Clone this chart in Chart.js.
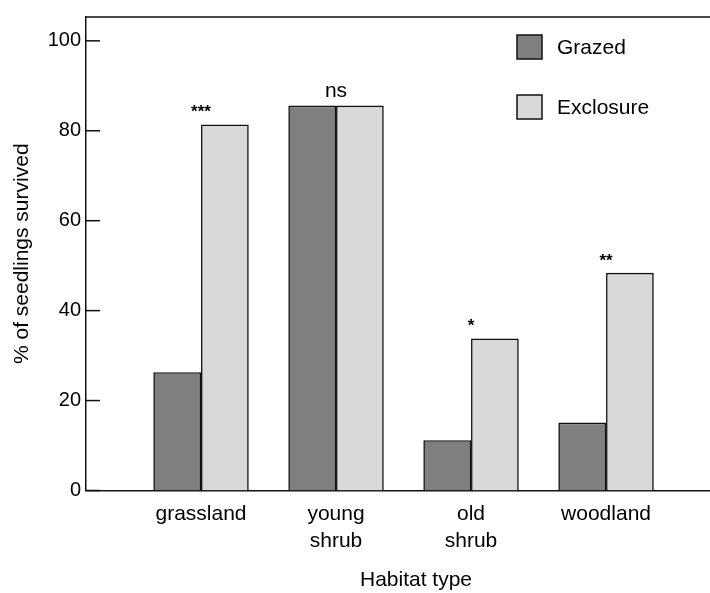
<!DOCTYPE html>
<html>
<head>
<meta charset="utf-8">
<script src="https://cdn.jsdelivr.net/npm/chart.js@4.4.1/dist/chart.umd.min.js"></script>
<style>
  body { margin: 0; background: #fff; }
  #wrap { width: 710px; height: 593px; }
</style>
</head>
<body>
<div id="wrap"><canvas id="chart" width="710" height="593"></canvas></div>
<script>
// habitat categories and survival (%)
const categories = ['grassland', ['young', 'shrub'], ['old', 'shrub'], 'woodland'];
const grazed = [26.3, 85.6, 11.2, 15.1];
const exclosure = [81.4, 85.6, 33.8, 48.4];
const significance = ['***', 'ns', '*', '**'];
const yTicks = [0, 20, 40, 60, 80, 100];

const FONT = '"Liberation Sans", Arial, Helvetica, sans-serif';
const INK = '#111';

// frame, inward ticks, significance marks, legend and x title
const decorations = {
    id: 'decorations',
    afterDraw(chart) {
        const { ctx, chartArea, scales } = chart;
        const x = scales.x, y = scales.y;
        ctx.save();
        ctx.strokeStyle = INK;
        ctx.lineWidth = 1.5;

        // top line of the frame
        ctx.beginPath();
        ctx.moveTo(chartArea.left, chartArea.top);
        ctx.lineTo(chartArea.right, chartArea.top);
        ctx.stroke();

        // tick marks pointing into the plot
        yTicks.forEach(t => {
            const py = y.getPixelForValue(t);
            ctx.beginPath();
            ctx.moveTo(chartArea.left, py);
            ctx.lineTo(chartArea.left + 14, py);
            ctx.stroke();
        });

        // significance labels over each pair
        ctx.fillStyle = '#000';
        ctx.textAlign = 'center';
        ctx.textBaseline = 'middle';
        significance.forEach((s, i) => {
            const px = x.getPixelForValue(i);
            const top = y.getPixelForValue(Math.max(grazed[i], exclosure[i]));
            if (s === 'ns') {
                ctx.font = '21px ' + FONT;
                ctx.fillText(s, px, top - 14);
            } else {
                ctx.font = 'bold 17px ' + FONT;
                ctx.fillText(s, px, top - 12);
            }
        });

        // legend
        ctx.textAlign = 'left';
        ctx.font = '21px ' + FONT;
        chart.data.datasets.forEach((ds, i) => {
            const by = 35 + i * 60;
            ctx.fillStyle = ds.backgroundColor;
            ctx.fillRect(517, by, 25, 24);
            ctx.strokeRect(517, by, 25, 24);
            ctx.fillStyle = '#000';
            ctx.fillText(ds.label, 557, by + 13);
        });

        // x axis title
        ctx.textAlign = 'center';
        ctx.fillText('Habitat type', 416, 580);
        ctx.restore();
    }
};

new Chart(document.getElementById('chart'), {
    type: 'bar',
    data: {
        datasets: [
            {
                label: 'Grazed',
                data: grazed.map((v, i) => ({ x: i, y: v })),
                backgroundColor: '#7f7f7f',
                borderColor: INK,
                borderWidth: 1.6
            },
            {
                label: 'Exclosure',
                data: exclosure.map((v, i) => ({ x: i, y: v })),
                backgroundColor: '#d9d9d9',
                borderColor: INK,
                borderWidth: 1.6
            }
        ]
    },
    options: {
        responsive: false,
        animation: false,
        barPercentage: 1,
        categoryPercentage: 0.707,
        layout: { padding: { top: 14, left: 0, right: 0, bottom: 0 } },
        plugins: {
            legend: { display: false },
            tooltip: { enabled: false }
        },
        scales: {
            x: {
                type: 'linear',
                offset: false,
                min: -0.852,
                max: 3.77,
                afterFit(scale) { scale.height = 102.5; },
                afterBuildTicks(scale) {
                    scale.ticks = categories.map((c, i) => ({ value: i }));
                },
                grid: { display: false, drawTicks: false },
                border: { display: true, color: INK, width: 1.5 },
                ticks: {
                    color: '#000',
                    padding: 11,
                    maxRotation: 0,
                    autoSkip: false,
                    font: { family: FONT, size: 21, lineHeight: 1.25 },
                    callback: v => categories[v]
                }
            },
            y: {
                min: 0,
                max: 105.3,
                afterFit(scale) { scale.width = 86; },
                afterBuildTicks(scale) {
                    scale.ticks = yTicks.map(v => ({ value: v }));
                },
                grid: { display: false, drawTicks: false },
                border: { display: true, color: INK, width: 1.5 },
                ticks: {
                    color: '#000',
                    padding: 5,
                    font: { family: FONT, size: 20 }
                },
                title: {
                    display: true,
                    text: '% of seedlings survived',
                    color: '#000',
                    padding: { top: 10, bottom: 0 },
                    font: { family: FONT, size: 21 }
                }
            }
        }
    },
    plugins: [decorations]
});
</script>
</body>
</html>
